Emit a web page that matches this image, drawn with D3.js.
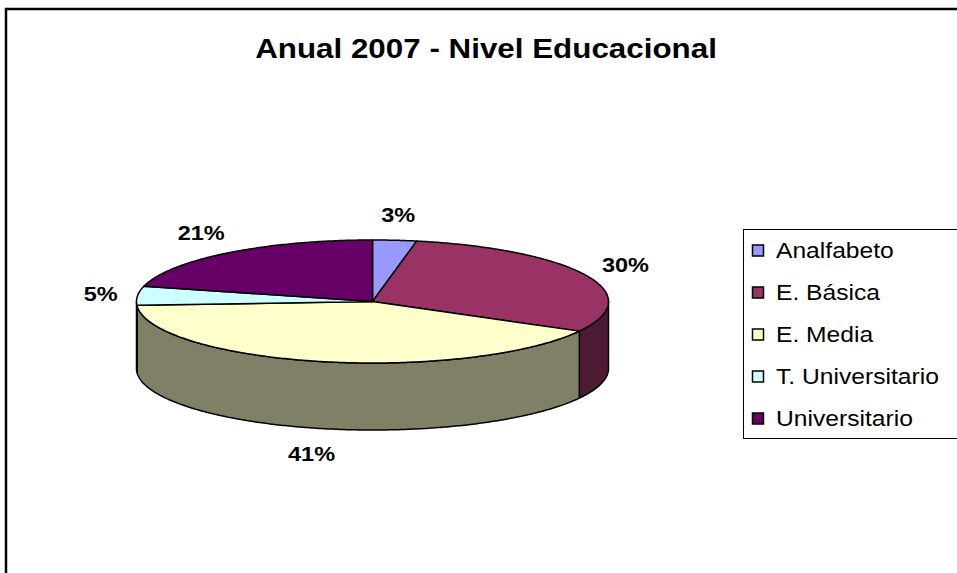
<!DOCTYPE html>
<html>
<head>
<meta charset="utf-8">
<script src="https://cdn.jsdelivr.net/npm/d3@7"></script>
<style>
  body { margin: 0; background: #fff; }
  text { font-family: "Liberation Sans", Arial, sans-serif; }
</style>
</head>
<body>
<script>
// data
const categories = ["Analfabeto", "E. Básica", "E. Media", "T. Universitario", "Universitario"];
const values = [3, 30, 41, 5, 21];
const valueLabels = ["3%", "30%", "41%", "5%", "21%"];
const palette = ["#9999FF", "#993366", "#FFFFCC", "#CCFFFF", "#660066"];
const chartTitle = "Anual 2007 - Nivel Educacional";

const width = 957, height = 573;
const cx = 372.5, cy = 301.5, rx = 236, ry = 61.5, depth = 67;
const stretch = 1.12; // text looks a bit wide in the original

const svg = d3.select("body").append("svg")
  .attr("width", width)
  .attr("height", height);

// chart frame
svg.append("rect")
  .attr("x", 6).attr("y", 9)
  .attr("width", 1000).attr("height", 1000)
  .attr("fill", "none")
  .attr("stroke", "#000")
  .attr("stroke-width", 2.5);

svg.append("text")
  .attr("transform", "translate(486," + 58 + ") scale(" + stretch + ",1)")
  .attr("text-anchor", "middle")
  .attr("font-size", 28)
  .attr("font-weight", "bold")
  .text(chartTitle);

const data = categories.map(function(c, i) {
  return { name: c, value: values[i], label: valueLabels[i] };
});

const color = d3.scaleOrdinal().domain(categories).range(palette);
const sideColor = function(name) {
  const c = d3.rgb(color(name));
  return d3.rgb(c.r / 2, c.g / 2, c.b / 2);
};

const arcs = d3.pie().sort(null).value(d => d.value)(data);

// point on the tilted ellipse, angle measured clockwise from 12 o'clock
function pt(t, dz) {
  return [cx + rx * Math.sin(t), cy - ry * Math.cos(t) + dz];
}
function edge(t0, t1, dz) {
  const n = Math.max(2, Math.ceil(Math.abs(t1 - t0) / 0.01));
  return d3.range(n + 1).map(i => pt(t0 + (t1 - t0) * i / n, dz));
}
const line = d3.line();

const pieG = svg.append("g")
  .attr("stroke", "#000")
  .attr("stroke-width", 1.5)
  .attr("stroke-linejoin", "round");

// outer walls (front half only)
arcs.forEach(function(a) {
  const s0 = Math.max(a.startAngle, Math.PI / 2);
  const s1 = Math.min(a.endAngle, 3 * Math.PI / 2);
  if (s0 >= s1) return;
  const pts = edge(s0, s1, 0).concat(edge(s1, s0, depth));
  pieG.append("path")
    .attr("d", line(pts) + "Z")
    .attr("fill", sideColor(a.data.name));
});

// top faces
arcs.forEach(function(a) {
  const pts = [[cx, cy]].concat(edge(a.startAngle, a.endAngle, 0));
  pieG.append("path")
    .attr("d", line(pts) + "Z")
    .attr("fill", color(a.data.name));
});

// value labels
arcs.forEach(function(a) {
  const t = (a.startAngle + a.endAngle) / 2;
  const s = Math.sin(t), c = Math.cos(t);
  const e = pt(t, c < 0 ? depth : 0);
  const hw = a.data.label.length > 2 ? 23.5 : 17;
  const x = e[0] + s * (hw + 20);
  const y = e[1] - c * (8 + 18);
  svg.append("text")
    .attr("transform", "translate(" + x + "," + y + ") scale(" + stretch + ",1)")
    .attr("text-anchor", "middle")
    .attr("dy", "0.36em")
    .attr("font-size", 21)
    .attr("font-weight", "bold")
    .text(a.data.label);
});

// legend
const legend = svg.append("g");
legend.append("rect")
  .attr("x", 743.5).attr("y", 229.5)
  .attr("width", 240).attr("height", 209)
  .attr("fill", "#fff")
  .attr("stroke", "#000")
  .attr("stroke-width", 1);

const rowY = d3.scalePoint().domain(categories).range([258, 426]);

const items = legend.selectAll("g.item")
  .data(categories)
  .join("g")
  .attr("class", "item");

items.append("rect")
  .attr("x", 752.5)
  .attr("y", d => rowY(d) - 13)
  .attr("width", 11).attr("height", 11)
  .attr("fill", d => color(d))
  .attr("stroke", "#000")
  .attr("stroke-width", 1.5);

items.append("text")
  .attr("transform", d => "translate(776," + rowY(d) + ") scale(" + stretch + ",1)")
  .attr("font-size", 22)
  .text(d => d);
</script>
</body>
</html>
